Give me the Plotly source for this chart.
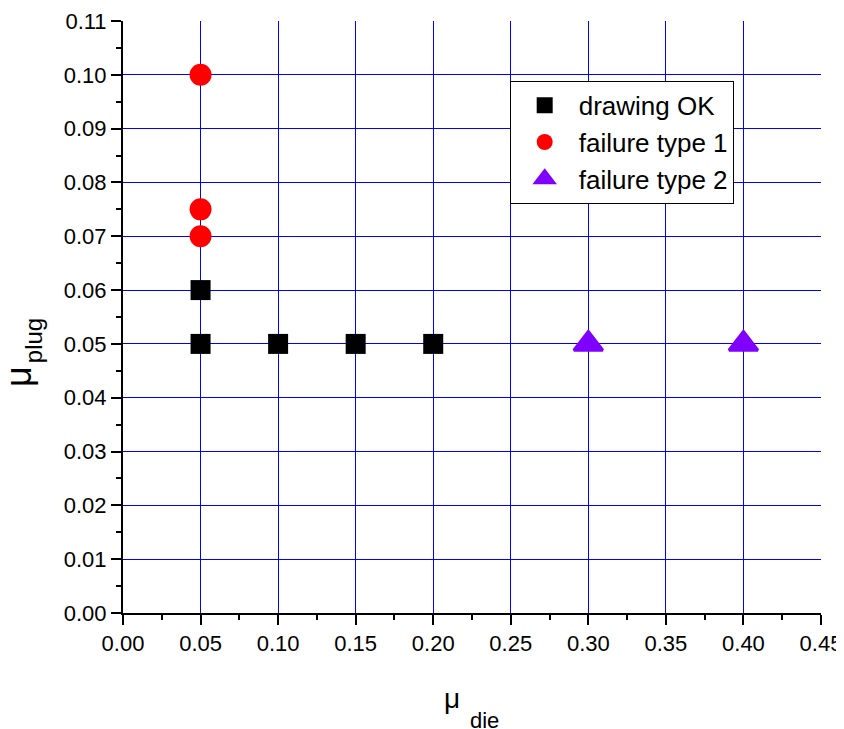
import plotly.graph_objects as go

# Data
ok_x = [0.05, 0.05, 0.10, 0.15, 0.20]
ok_y = [0.05, 0.06, 0.05, 0.05, 0.05]
f1_x = [0.05, 0.05, 0.05]
f1_y = [0.07, 0.075, 0.10]
f2_x = [0.30, 0.40]
f2_y = [0.05, 0.05]

x_ticks = [0.00, 0.05, 0.10, 0.15, 0.20, 0.25, 0.30, 0.35, 0.40, 0.45]
x_labels = ["0.00", "0.05", "0.10", "0.15", "0.20", "0.25", "0.30", "0.35", "0.40", "0.45"]
y_ticks = [0.00, 0.01, 0.02, 0.03, 0.04, 0.05, 0.06, 0.07, 0.08, 0.09, 0.10, 0.11]
y_labels = ["0.00", "0.01", "0.02", "0.03", "0.04", "0.05", "0.06", "0.07", "0.08", "0.09", "0.10", "0.11"]

FONT = "Arial, Liberation Sans, sans-serif"
GRID = "#0000FF"

fig = go.Figure()
# empty helper traces so the label/tick overlay axes get drawn
fig.add_trace(go.Scatter(x=[], y=[], xaxis="x2", yaxis="y", showlegend=False, hoverinfo="skip"))
fig.add_trace(go.Scatter(x=[], y=[], xaxis="x", yaxis="y2", showlegend=False, hoverinfo="skip"))

fig.add_trace(go.Scatter(x=ok_x, y=ok_y, mode="markers", name="drawing OK",
                         marker=dict(symbol="square", size=20, color="black")))
fig.add_trace(go.Scatter(x=f1_x, y=f1_y, mode="markers", name="failure type 1",
                         marker=dict(symbol="circle", size=22, color="#FF0000")))
fig.add_trace(go.Scatter(x=f2_x, y=f2_y, mode="markers", name="failure type 2",
                         marker=dict(symbol="triangle-up", size=25, color="#8000FF",
                                     line=dict(color="#8000FF", width=3))))

# main axes: interior grid lines only
grid_common = dict(
    showline=False, ticks="", showticklabels=False, zeroline=False,
    showgrid=True, gridcolor=GRID, gridwidth=1, automargin=False,
)
# overlay axes: axis line, ticks and labels
label_common = dict(
    showline=True, linecolor="black", linewidth=2,
    ticks="outside", ticklen=10, tickwidth=2, tickcolor="black",
    showgrid=False, zeroline=False,
    automargin=False, tickfont=dict(family=FONT, size=22, color="black"),
)

# page body adds an 8px offset; compensate in size/margins
fig.update_layout(
    template="none",
    width=836, height=721,
    margin=dict(l=115, r=23, t=13, b=116, pad=0),
    paper_bgcolor="white", plot_bgcolor="white",
    font=dict(family=FONT, size=22, color="black"),
    showlegend=True,
    legend=dict(x=0.554, y=0.899, xanchor="left", yanchor="top",
                bgcolor="white", bordercolor="black", borderwidth=1,
                font=dict(family=FONT, size=26, color="black"),
                itemsizing="trace", itemwidth=58),
    xaxis=dict(range=[0, 0.45], tickvals=x_ticks[1:-1], **grid_common),
    yaxis=dict(range=[0, 0.11], tickvals=y_ticks[1:-1], **grid_common),
    xaxis2=dict(range=[0, 0.45], tickvals=x_ticks, ticktext=x_labels,
                overlaying="x", anchor="y", side="bottom",
                minor=dict(ticks="outside", ticklen=5, tickwidth=2, tickcolor="black",
                           dtick=0.025, tick0=0, showgrid=False),
                **label_common),
    yaxis2=dict(range=[0, 0.11], tickvals=y_ticks, ticktext=y_labels,
                overlaying="y", anchor="x", side="left",
                minor=dict(ticks="outside", ticklen=5, tickwidth=2, tickcolor="black",
                           dtick=0.005, tick0=0, showgrid=False),
                **label_common),
    annotations=[
        dict(text="μ", xref="paper", yref="paper", x=0.4714, y=-0.1446,
             xanchor="center", yanchor="middle", showarrow=False,
             font=dict(family=FONT, size=28, color="black")),
        dict(text="die", xref="paper", yref="paper", x=0.518, y=-0.1818,
             xanchor="center", yanchor="middle", showarrow=False,
             font=dict(family=FONT, size=22, color="black")),
        dict(text="μ", xref="paper", yref="paper", x=-0.149, y=0.4004,
             xanchor="center", yanchor="middle", showarrow=False, textangle=-90,
             font=dict(family=FONT, size=36, color="black")),
        dict(text="plug", xref="paper", yref="paper", x=-0.128, y=0.4603,
             xanchor="center", yanchor="middle", showarrow=False, textangle=-90,
             font=dict(family=FONT, size=24, color="black")),
    ],
)

fig.write_html("out.html")
